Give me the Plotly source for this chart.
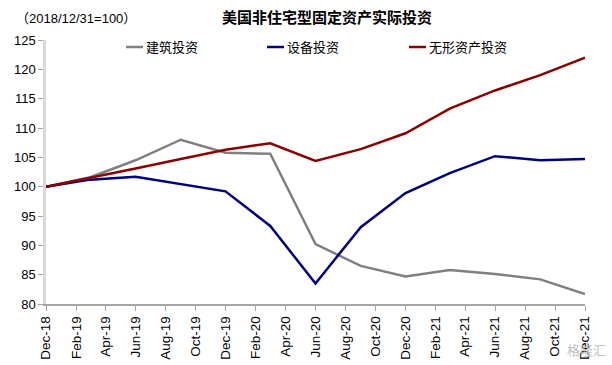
import plotly.graph_objects as go

dates = ["2018-12-01", "2019-03-01", "2019-06-01", "2019-09-01", "2019-12-01",
         "2020-03-01", "2020-06-01", "2020-09-01", "2020-12-01", "2021-03-01",
         "2021-06-01", "2021-09-01", "2021-12-01"]
construction = [100.0, 101.6, 104.5, 108.0, 105.8, 105.6, 90.2, 86.5, 84.7, 85.8, 85.1, 84.2, 81.7]
equipment = [100.0, 101.2, 101.7, 100.4, 99.2, 93.3, 83.5, 93.1, 98.9, 102.3, 105.2, 104.5, 104.7]
intangible = [100.0, 101.5, 103.1, 104.7, 106.3, 107.4, 104.4, 106.4, 109.1, 113.3, 116.4, 119.0, 122.0]

names = ["建筑投资", "设备投资", "无形资产投资"]
colors = ["#808080", "#000080", "#8B0000"]

tick_dates = ["2018-12-01", "2019-02-01", "2019-04-01", "2019-06-01", "2019-08-01",
              "2019-10-01", "2019-12-01", "2020-02-01", "2020-04-01", "2020-06-01",
              "2020-08-01", "2020-10-01", "2020-12-01", "2021-02-01", "2021-04-01",
              "2021-06-01", "2021-08-01", "2021-10-01", "2021-12-01"]
tick_text = ["Dec-18", "Feb-19", "Apr-19", "Jun-19", "Aug-19", "Oct-19", "Dec-19",
             "Feb-20", "Apr-20", "Jun-20", "Aug-20", "Oct-20", "Dec-20", "Feb-21",
             "Apr-21", "Jun-21", "Aug-21", "Oct-21", "Dec-21"]
y_ticks = [80, 85, 90, 95, 100, 105, 110, 115, 120, 125]

W, H = 612, 365
ML, MR, MT, MB = 46, 27, 40, 61
pw, ph = W - ML - MR, H - MT - MB


def px(x):
    return (x - ML) / pw


def py(y):
    return (H - MB - y) / ph


fig = go.Figure()
for name, vals, c in zip(names, [construction, equipment, intangible], colors):
    fig.add_trace(go.Scatter(x=dates, y=vals, mode="lines", name=name,
                             line=dict(color=c, width=2.5), showlegend=False,
                             hoverinfo="skip"))

annotations = [
    dict(text="<b>美国非住宅型固定资产实际投资</b>", x=px(327), y=py(17), xref="paper", yref="paper",
         xanchor="center", yanchor="middle", showarrow=False,
         font=dict(family="Noto Sans CJK SC", size=15, color="black")),
    dict(text="（2018/12/31=100）", x=px(14), y=py(18), xref="paper", yref="paper",
         xanchor="left", yanchor="middle", showarrow=False,
         font=dict(family="Liberation Sans, Noto Sans CJK SC", size=13, color="black")),
    dict(text="格隆汇", x=px(608), y=py(349), xref="paper", yref="paper",
         xanchor="right", yanchor="middle", showarrow=False,
         font=dict(family="Noto Sans CJK SC", size=13, color="#c0c0c0")),
]
shapes = []
legend_text_x = [144, 285, 427]
for name, c, tx in zip(names, colors, legend_text_x):
    shapes.append(dict(type="line", xref="paper", yref="paper",
                       x0=px(tx - 18), x1=px(tx - 1), y0=py(47), y1=py(47),
                       line=dict(color=c, width=2.5)))
    annotations.append(dict(text=name, x=px(tx), y=py(47), xref="paper", yref="paper",
                            xanchor="left", yanchor="middle", showarrow=False,
                            font=dict(family="Noto Sans CJK SC", size=13, color="black")))

fig.update_layout(
    width=W, height=H,
    margin=dict(l=ML, r=MR, t=MT, b=MB, autoexpand=False),
    paper_bgcolor="white", plot_bgcolor="white",
    font=dict(family="Liberation Sans, Noto Sans CJK SC", size=12, color="black"),
    showlegend=False,
    annotations=annotations,
    shapes=shapes,
)

fig.update_xaxes(
    type="date", range=["2018-12-01", "2021-12-01"],
    tickvals=tick_dates, ticktext=tick_text, tickangle=-90,
    ticks="outside", ticklen=5, tickcolor="#a6a6a6", tickwidth=1,
    showline=True, linecolor="#a6a6a6", linewidth=1.5,
    showgrid=False, zeroline=False, automargin=False,
    tickfont=dict(family="Liberation Sans", size=13.5, color="black"),
)
fig.update_yaxes(
    range=[80, 125], tickvals=y_ticks,
    ticks="outside", ticklen=5, tickcolor="#a6a6a6", tickwidth=1,
    showline=True, linecolor="#d9d9d9", linewidth=2.5,
    showgrid=False, zeroline=False, automargin=False,
    tickfont=dict(family="Liberation Sans", size=13, color="black"),
)

fig.write_html("out.html", config={"displayModeBar": False},
               post_script="document.body.style.margin='0';")
